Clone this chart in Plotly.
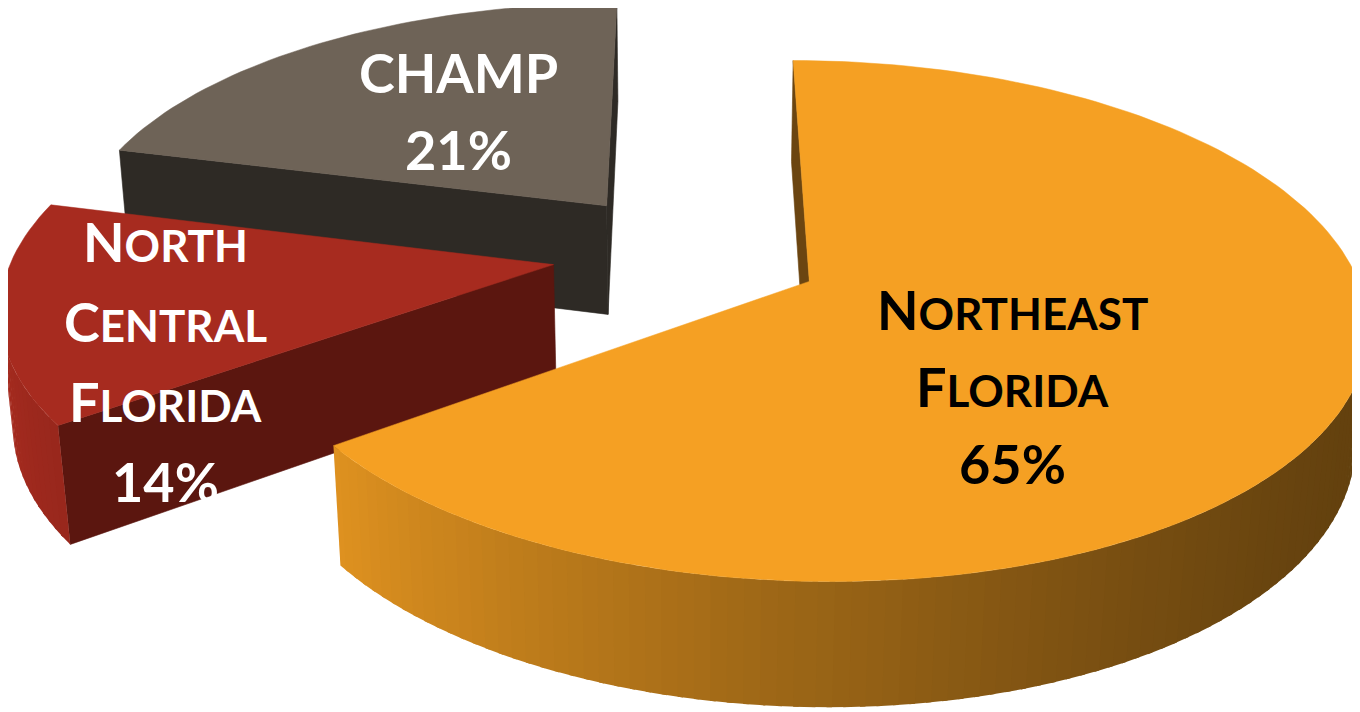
import numpy as np
import plotly.graph_objects as go

# ---------------- data ----------------
categories = ["Northeast Florida", "North Central Florida", "CHAMP"]
shares = [65, 14, 21]                      # percent of total
top_colors = ["#F5A023", "#A72B1F", "#6E6357"]
radial_wall_colors = ["#6B4511", "#5B160F", "#2E2A25"]
label_colors = ["#000000", "#FFFFFF", "#FFFFFF"]

# ---------------- 3D view (style) ----------------
ELEV = np.radians(27.1)
DIST = 5.947
SCALE = 3210.0
X0, Y0 = 679.0, 245.0
EXPLODE = 0.25
THICK = 0.235
START = 90.0
AMB, LU, LV = 0.728, -0.3036, 0.108
SE, CE = np.sin(ELEV), np.cos(ELEV)
CAM = np.array([0.0, -DIST * CE, DIST * SE])

# label placement (pixels): centre x, first line y, line pitch
label_layout = {
    "Northeast Florida": (1004, 301, 77),
    "North Central Florida": (157, 233, 80),
    "CHAMP": (450, 64, 77),
}
BIG, SMALL = 54, 44


def project(u, v, h):
    u, v, h = np.asarray(u, float), np.asarray(v, float), np.asarray(h, float)
    yc = v * SE + h * CE
    zc = DIST + v * CE - h * SE
    return X0 + SCALE * u / zc, Y0 - SCALE * yc / zc


def shade(hexcol, f):
    r, g, b = (int(hexcol[i:i + 2], 16) for i in (1, 3, 5))
    f = max(0.0, f)
    return "rgb(%d,%d,%d)" % tuple(min(255, int(round(c * f))) for c in (r, g, b))


def poly_trace(pts3, color, lw=0.0):
    pts3 = np.asarray(pts3)
    x, y = project(pts3[:, 0], pts3[:, 1], pts3[:, 2])
    x = np.append(x, x[0])
    y = np.append(y, y[0])
    return go.Scatter(x=x, y=y, mode="lines", fill="toself", fillcolor=color,
                      line=dict(color=color, width=lw), hoverinfo="skip",
                      showlegend=False)


# build slices
slices = []
cum = 0.0
total = float(sum(shares))
for i, (name, val) in enumerate(zip(categories, shares)):
    a0 = START - cum / total * 360.0
    a1 = START - (cum + val) / total * 360.0
    cum += val
    mid = np.radians((a0 + a1) / 2)
    slices.append(dict(i=i, a0=a0, a1=a1, cu=EXPLODE * np.cos(mid), cv=EXPLODE * np.sin(mid)))

traces = []
OVER = np.radians(0.5)
for s in sorted(slices, key=lambda d: -d["cv"]):
    i, a0, a1, cu, cv = s["i"], s["a0"], s["a1"], s["cu"], s["cv"]
    n = max(10, int(abs(a1 - a0) / 1.5))
    ang = np.radians(np.linspace(a0, a1, n))
    walls = []
    # radial walls
    for ea_deg, na_deg in ((a0, a0 + 90.0), (a1, a1 - 90.0)):
        ea, na = np.radians(ea_deg), np.radians(na_deg)
        eu, ev = cu + np.cos(ea), cv + np.sin(ea)
        pts = np.array([[cu, cv, 0], [eu, ev, 0], [eu, ev, -THICK], [cu, cv, -THICK]])
        mp = pts.mean(axis=0)
        nv = np.array([np.cos(na), np.sin(na), 0.0])
        if nv @ (CAM - mp) > 0:
            walls.append((np.linalg.norm(CAM - mp), pts, radial_wall_colors[i], 0.6))
    # outer curved wall
    for k in range(n - 1):
        am = (ang[k] + ang[k + 1]) / 2
        nv = np.array([np.cos(am), np.sin(am), 0.0])
        mp = np.array([cu + np.cos(am), cv + np.sin(am), -THICK / 2])
        if nv @ (CAM - mp) > 0:
            b0 = ang[k]
            b1 = ang[k + 1] + (OVER if k < n - 2 else 0.0) * np.sign(ang[k + 1] - ang[k])
            p1 = [cu + np.cos(b0), cv + np.sin(b0)]
            p2 = [cu + np.cos(b1), cv + np.sin(b1)]
            pts = np.array([[p1[0], p1[1], 0], [p2[0], p2[1], 0],
                            [p2[0], p2[1], -THICK], [p1[0], p1[1], -THICK]])
            f = AMB + LU * np.cos(am) + LV * np.sin(am)
            walls.append((np.linalg.norm(CAM - mp), pts, shade(top_colors[i], f), 0.0))
    for _, pts, col, lw in sorted(walls, key=lambda w: -w[0]):
        traces.append(poly_trace(pts, col, lw))
    # top face
    top = [[cu, cv, 0]] + [[cu + np.cos(a), cv + np.sin(a), 0] for a in ang]
    traces.append(poly_trace(top, top_colors[i], lw=0.5))

fig = go.Figure(traces)

# labels
annotations = []
for name, val, col in zip(categories, shares, label_colors):
    cx, y0, pitch = label_layout[name]
    lines = []
    for w in name.split():
        if w.isupper():
            lines.append(w)
        else:
            lines.append(w[0].upper() + "<span style='font-size:%dpx'>%s</span>" % (SMALL, w[1:].upper()))
    lines.append("%d%%" % val)
    for j, txt in enumerate(lines):
        annotations.append(dict(x=cx, y=y0 + j * pitch, xref="x", yref="y", text=txt,
                                showarrow=False, xanchor="center", yanchor="middle",
                                font=dict(family="Lato", size=BIG, color=col, weight=700)))

fig.update_layout(
    width=1360, height=712, margin=dict(l=0, r=0, t=0, b=0),
    paper_bgcolor="white", plot_bgcolor="white",
    xaxis=dict(range=[0, 1360], visible=False, fixedrange=True),
    yaxis=dict(range=[712, 0], visible=False, fixedrange=True),
    annotations=annotations, showlegend=False,
)
fig.write_html("out.html")
